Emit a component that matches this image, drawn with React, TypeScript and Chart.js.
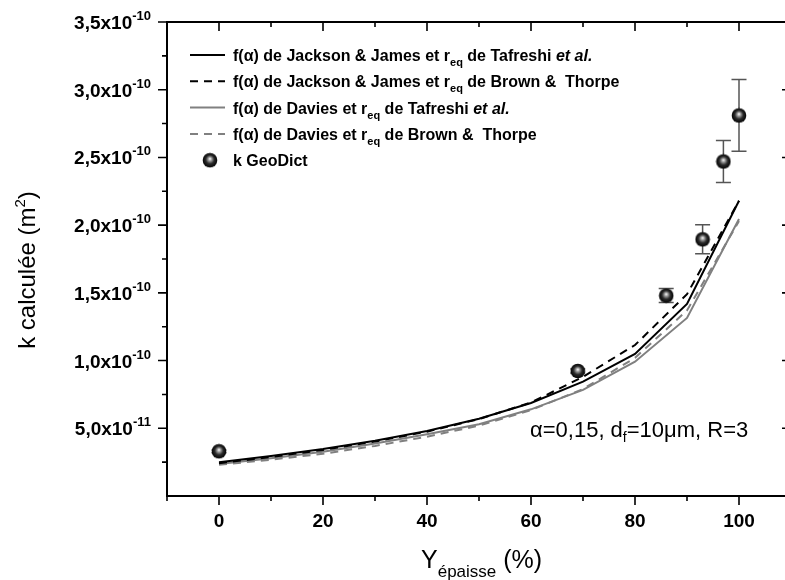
import React, { useEffect, useRef } from "react";
import { Chart, registerables } from "chart.js";

Chart.register(...registerables);

// ---------- data ----------
const xLine = [0, 10, 20, 30, 40, 50, 60, 70, 80, 90, 100];
const kJJTaf = [2.49e-11, 2.95e-11, 3.47e-11, 4.08e-11, 4.8e-11, 5.7e-11, 6.87e-11, 8.44e-11, 1.049e-10, 1.418e-10, 2.18e-10];
const kJJBT = [2.42e-11, 2.88e-11, 3.4e-11, 4.02e-11, 4.75e-11, 5.68e-11, 6.9e-11, 8.8e-11, 1.115e-10, 1.49e-10, 2.18e-10];
const kDavTaf = [2.36e-11, 2.78e-11, 3.27e-11, 3.87e-11, 4.56e-11, 5.3e-11, 6.4e-11, 7.83e-11, 9.92e-11, 1.315e-10, 2.046e-10];
const kDavBT = [2.3e-11, 2.68e-11, 3.12e-11, 3.7e-11, 4.38e-11, 5.2e-11, 6.35e-11, 7.9e-11, 1.02e-10, 1.37e-10, 2.03e-10];

const geoX = [0, 69, 86, 93, 97, 100];
const geoK = [3.3e-11, 9.23e-11, 1.48e-10, 1.895e-10, 2.47e-10, 2.81e-10];
const geoErr = [1e-12, 1.5e-12, 5.2e-12, 1.07e-11, 1.55e-11, 2.65e-11];

const xMajorTicks = [0, 20, 40, 60, 80, 100];
const xMinorTicks = [-10, 10, 30, 50, 70, 90, 110];
const xTickLabels = ["0", "20", "40", "60", "80", "100"];

const yMajorTicks = [5e-11, 1e-10, 1.5e-10, 2e-10, 2.5e-10, 3e-10, 3.5e-10];
const yMinorTicks = [2.5e-11, 7.5e-11, 1.25e-10, 1.75e-10, 2.25e-10, 2.75e-10, 3.25e-10];
const yTickMantissa = ["5,0x10", "1,0x10", "1,5x10", "2,0x10", "2,5x10", "3,0x10", "3,5x10"];
const yTickExponent = ["-11", "-10", "-10", "-10", "-10", "-10", "-10"];

const legendLabels: [string, string][][] = [
  [["f(α) de Jackson & James et r", "n"], ["eq", "sub"], [" de Tafreshi ", "n"], ["et al.", "it"]],
  [["f(α) de Jackson & James et r", "n"], ["eq", "sub"], [" de Brown &  Thorpe", "n"]],
  [["f(α) de Davies et r", "n"], ["eq", "sub"], [" de Tafreshi ", "n"], ["et al.", "it"]],
  [["f(α) de Davies et r", "n"], ["eq", "sub"], [" de Brown &  Thorpe", "n"]],
  [["k GeoDict", "n"]],
];

const FONT = "'Liberation Sans', Arial, sans-serif";

function makeSphere(): HTMLCanvasElement {
  const c = document.createElement("canvas");
  c.width = 16;
  c.height = 16;
  const g = c.getContext("2d")!;
  const grad = g.createRadialGradient(8, 6.5, 0.3, 8, 8, 7.5);
  grad.addColorStop(0, "#f4f4f4");
  grad.addColorStop(0.22, "#9a9a9a");
  grad.addColorStop(0.55, "#2a2a2a");
  grad.addColorStop(1, "#000000");
  g.fillStyle = grad;
  g.beginPath();
  g.arc(8, 8, 7.3, 0, Math.PI * 2);
  g.fill();
  return c;
}

export default function App() {
  const ref = useRef<HTMLCanvasElement | null>(null);

  useEffect(() => {
    document.body.style.margin = "0";
    document.body.style.overflow = "hidden";
    const canvas = ref.current!;
    const sphere = makeSphere();

    const errorBars = {
      id: "errorBars",
      beforeDatasetDraw(chart: any, args: any) {
        if (args.index !== 4) return;
        const { ctx, scales } = chart;
        ctx.save();
        ctx.strokeStyle = "#555555";
        ctx.lineWidth = 1.5;
        geoX.forEach((x, i) => {
          const px = scales.x.getPixelForValue(x);
          const yt = scales.y.getPixelForValue(geoK[i] + geoErr[i]);
          const yb = scales.y.getPixelForValue(geoK[i] - geoErr[i]);
          ctx.beginPath();
          ctx.moveTo(px, yt);
          ctx.lineTo(px, yb);
          ctx.moveTo(px - 7.5, yt);
          ctx.lineTo(px + 7.5, yt);
          ctx.moveTo(px - 7.5, yb);
          ctx.lineTo(px + 7.5, yb);
          ctx.stroke();
        });
        ctx.restore();
      },
    };

    const decor = {
      id: "decor",
      afterDraw(chart: any) {
        const { ctx, chartArea: a, scales } = chart;
        const xs = scales.x;
        const ys = scales.y;
        ctx.save();
        // frame
        ctx.strokeStyle = "#000";
        ctx.lineWidth = 2;
        ctx.strokeRect(a.left, a.top, a.right - a.left, a.bottom - a.top);
        ctx.lineWidth = 1.6;
        ctx.beginPath();
        const tickX = (v: number, len: number) => {
          const p = xs.getPixelForValue(v);
          ctx.moveTo(p, a.bottom);
          ctx.lineTo(p, a.bottom + len);
          ctx.moveTo(p, a.top);
          ctx.lineTo(p, a.top + len);
        };
        const tickY = (v: number, len: number) => {
          const p = ys.getPixelForValue(v);
          ctx.moveTo(a.left, p);
          ctx.lineTo(a.left - len, p);
          ctx.moveTo(a.right, p);
          ctx.lineTo(a.right - len, p);
        };
        xMajorTicks.forEach((v) => tickX(v, 9));
        xMinorTicks.forEach((v) => tickX(v, 5));
        yMajorTicks.forEach((v) => tickY(v, 9));
        yMinorTicks.forEach((v) => tickY(v, 5));
        ctx.stroke();

        ctx.fillStyle = "#000";
        // x tick labels
        ctx.font = `bold 19px ${FONT}`;
        ctx.textAlign = "center";
        ctx.textBaseline = "alphabetic";
        xMajorTicks.forEach((v, i) => {
          ctx.fillText(xTickLabels[i], xs.getPixelForValue(v), a.bottom + 31);
        });
        // y tick labels
        ctx.textAlign = "left";
        yMajorTicks.forEach((v, i) => {
          const p = ys.getPixelForValue(v);
          ctx.font = `bold 19px ${FONT}`;
          const w1 = ctx.measureText(yTickMantissa[i]).width;
          ctx.font = `bold 13px ${FONT}`;
          const w2 = ctx.measureText(yTickExponent[i]).width;
          const end = a.left - 16;
          const start = end - w1 - w2;
          ctx.font = `bold 19px ${FONT}`;
          ctx.fillText(yTickMantissa[i], start, p + 7);
          ctx.font = `bold 13px ${FONT}`;
          ctx.fillText(yTickExponent[i], start + w1, p - 2);
        });

        // legend
        const rowY0 = 55;
        const rowH = 26.3;
        legendLabels.forEach((segs, i) => {
          const y = rowY0 + i * rowH;
          if (i < 4) {
            ctx.save();
            ctx.strokeStyle = i < 2 ? "#000" : "#808080";
            ctx.lineWidth = 2;
            ctx.setLineDash(i % 2 === 1 ? [8, 6] : []);
            ctx.beginPath();
            ctx.moveTo(190, y);
            ctx.lineTo(225, y);
            ctx.stroke();
            ctx.restore();
          } else {
            ctx.drawImage(sphere, 210 - 8, y - 8);
          }
          let x = 233;
          segs.forEach(([t, s]) => {
            if (s === "sub") {
              ctx.font = `bold 11px ${FONT}`;
              ctx.fillText(t, x, y + 11);
            } else if (s === "it") {
              ctx.font = `italic bold 16px ${FONT}`;
              ctx.fillText(t, x, y + 6);
            } else {
              ctx.font = `bold 16px ${FONT}`;
              ctx.fillText(t, x, y + 6);
            }
            x += ctx.measureText(t).width;
          });
        });

        // annotation
        let ax = 530;
        const ab = 437;
        const annot: [string, string][] = [["α=0,15, d", "n"], ["f", "sub"], ["=10μm, R=3", "n"]];
        annot.forEach(([t, s]) => {
          if (s === "sub") {
            ctx.font = `14px ${FONT}`;
            ctx.fillText(t, ax, ab + 5);
          } else {
            ctx.font = `22px ${FONT}`;
            ctx.fillText(t, ax, ab);
          }
          ax += ctx.measureText(t).width;
        });

        // x title
        let tx = 421;
        ctx.font = `25px ${FONT}`;
        ctx.fillText("Y", tx, 568);
        tx += ctx.measureText("Y").width;
        ctx.font = `17px ${FONT}`;
        ctx.fillText("épaisse", tx, 577);
        tx += ctx.measureText("épaisse").width;
        ctx.font = `25px ${FONT}`;
        ctx.fillText(" (%)", tx, 568);

        // y title
        ctx.save();
        ctx.translate(35, 270);
        ctx.rotate(-Math.PI / 2);
        ctx.font = `24px ${FONT}`;
        const w1 = ctx.measureText("k calculée (m").width;
        ctx.font = `15px ${FONT}`;
        const w2 = ctx.measureText("2").width;
        ctx.font = `24px ${FONT}`;
        const w3 = ctx.measureText(")").width;
        let yx = -(w1 + w2 + w3) / 2;
        ctx.fillText("k calculée (m", yx, 0);
        yx += w1;
        ctx.font = `15px ${FONT}`;
        ctx.fillText("2", yx, -10);
        yx += w2;
        ctx.font = `24px ${FONT}`;
        ctx.fillText(")", yx, 0);
        ctx.restore();

        ctx.restore();
      },
    };

    const line = (data: number[], color: string, dash: number[]) => ({
      type: "line" as const,
      data: xLine.map((x, i) => ({ x, y: data[i] })),
      borderColor: color,
      borderWidth: 2,
      borderDash: dash,
      pointRadius: 0,
      fill: false,
      tension: 0,
    });

    const chart = new Chart(canvas, {
      type: "line",
      data: {
        datasets: [
          line(kJJTaf, "#000000", []),
          line(kJJBT, "#000000", [8, 6]),
          line(kDavTaf, "#808080", []),
          line(kDavBT, "#808080", [8, 6]),
          {
            type: "line",
            data: geoX.map((x, i) => ({ x, y: geoK[i] })),
            showLine: false,
            pointStyle: sphere as any,
            pointRadius: 8,
            borderColor: "#000",
            backgroundColor: "#000",
          } as any,
        ],
      },
      options: {
        responsive: false,
        animation: false,
        events: [],
        layout: { padding: { left: 167, top: 22, right: 9, bottom: 84 } },
        scales: {
          x: { type: "linear", min: -10, max: 110, display: false },
          y: { type: "linear", min: 0, max: 3.5e-10, display: false },
        },
        plugins: { legend: { display: false }, tooltip: { enabled: false } },
      },
      plugins: [errorBars, decor],
    });
    return () => chart.destroy();
  }, []);

  return (
    <div style={{ width: 785, height: 580, overflow: "hidden", background: "#fff" }}>
      <canvas ref={ref} width={800} height={580} style={{ display: "block" }} />
    </div>
  );
}
